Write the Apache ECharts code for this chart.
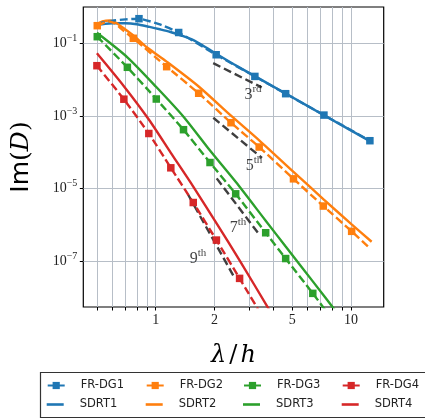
<!DOCTYPE html>
<html><head><meta charset="utf-8">
<script src="https://cdn.jsdelivr.net/npm/echarts@6/dist/echarts.min.js"></script>
<style>html,body{margin:0;padding:0;background:#fff}#c{width:425px;height:420px}</style>
</head><body><div id="c"></div>
<script>
// ---- tick values ----
const xTickValues = [0.5, 0.6, 0.7, 0.8, 0.9, 1, 2, 3, 4, 5, 6, 7, 8, 9, 10];
const xTickLabels = [1, 2, 5, 10];
const yTickLabels = [1e-1, 1e-3, 1e-5, 1e-7];

// ---- FR-DG (dashed with square markers) ----
const dg1_x = [0.5, 0.6, 0.7, 0.821, 1.05, 1.311, 2.04, 3.22, 4.63, 7.27, 12.5];
const dg1_y = [0.355, 0.43, 0.47, 0.49, 0.34, 0.2037, 0.0495, 0.0125, 0.00417, 0.00107, 0.00021];
const dg1_marks = [3, 5, 6, 7, 8, 9, 10];

const dg2_x = [0.502, 0.55, 0.58, 0.62, 0.683, 0.768, 1.138, 1.66, 2.43, 3.388, 5.077, 7.215, 10.08, 12.51];
const dg2_y = [0.314, 0.39, 0.41, 0.36, 0.23, 0.141, 0.0232, 0.00428, 0.000659, 0.0001406, 1.862e-5, 3.30e-6, 6.62e-7, 2.24e-7];
const dg2_marks = [0, 5, 6, 7, 8, 9, 10, 11, 12];

const dg3_x = [0.502, 0.716, 1.007, 1.388, 1.897, 2.568, 3.658, 4.63, 6.375, 8.0];
const dg3_y = [0.156, 0.0223, 0.00297, 0.000423, 5.25e-5, 7.18e-6, 6.05e-7, 1.175e-7, 1.285e-8, 2.5e-9];
const dg3_marks = [0, 1, 2, 3, 4, 5, 6, 7, 8];

const dg4_x = [0.5, 0.687, 0.922, 1.195, 1.557, 2.046, 2.689, 3.6];
const dg4_y = [0.0247, 0.00294, 0.000332, 3.75e-5, 4.13e-6, 3.8e-7, 3.33e-8, 2.4e-9];
const dg4_marks = [0, 1, 2, 3, 4, 5, 6];

// ---- SDRT (solid) ----
const sd1_x = [0.5, 0.55, 0.6, 0.7, 0.8, 0.93, 1.05, 1.18, 1.35, 1.55, 1.75, 2.04, 2.5, 3.22, 4.63, 7.27, 12.5];
const sd1_y = [0.33, 0.352, 0.365, 0.368, 0.345, 0.29, 0.25, 0.214, 0.168, 0.127, 0.088, 0.053, 0.0275, 0.0127, 0.0042, 0.00106, 0.000205];

const sd2_x = [0.5, 0.54, 0.583, 0.62, 0.683, 0.768, 0.9, 1.138, 1.66, 2.43, 3.388, 5.077, 7.215, 10.08, 12.76];
const sd2_y = [0.35, 0.42, 0.435, 0.39, 0.27, 0.17, 0.08, 0.032, 0.0066, 0.00103, 0.000215, 2.9e-5, 5.15e-6, 1.03e-6, 3.41e-7];

const sd3_x = [0.5, 0.716, 1.007, 1.388, 1.897, 2.568, 3.658, 4.63, 6.375, 9.0];
const sd3_y = [0.2, 0.0421, 0.00637, 0.000965, 0.0001125, 1.54e-5, 1.3e-6, 2.52e-7, 2.75e-8, 2.46e-9];

const sd4_x = [0.5, 0.687, 0.922, 1.195, 1.557, 2.046, 2.689, 3.9];
const sd4_y = [0.0543, 0.00671, 0.000807, 9.73e-5, 1.14e-5, 1.12e-6, 1.05e-7, 3.7e-9];

// ---- order reference lines ----
const ref3_x = [1.97, 3.49];   const ref3_y = [0.029, 0.0062];
const ref5_x = [1.972, 3.5];   const ref5_y = [0.000905, 7e-5];
const ref7_x = [2.053, 3.353]; const ref7_y = [1.92e-5, 5.82e-7];
const ref9_x = [1.469, 2.496]; const ref9_y = [6.65e-6, 4e-8];

// ---- order annotations ----
const ann_x = [3.15, 3.19, 2.64, 1.646];
const ann_y = [0.00384, 4.2e-5, 8.2e-7, 1.15e-7];
const ann_num = ['3', '5', '7', '9'];
const ann_sup = ['rd', 'th', 'th', 'th'];

const C = {b: '#1f77b4', o: '#ff7f0e', g: '#2ca02c', r: '#d62728', k: '#3f3f3f'};
const LW = 2.4;

function zip(xs, ys) { return xs.map((x, i) => [x, ys[i]]); }
function dgSeries(name, color, xs, ys, marks) {
  return {
    name, type: 'line', symbol: 'rect', symbolSize: 7.5, showAllSymbol: true,
    data: xs.map((x, i) => marks.includes(i) ? [x, ys[i]] : {value: [x, ys[i]], symbol: 'none'}),
    lineStyle: {color, width: LW, type: [8, 3.6]}, itemStyle: {color},
    smooth: 0.15, z: 3, animation: false, silent: true
  };
}
function sdSeries(name, color, xs, ys) {
  return {
    name, type: 'line', symbol: 'none', data: zip(xs, ys),
    lineStyle: {color, width: LW}, itemStyle: {color},
    smooth: 0.25, z: 2, animation: false, silent: true
  };
}
function refSeries(xs, ys) {
  return {
    type: 'line', symbol: 'none', data: zip(xs, ys),
    lineStyle: {color: C.k, width: LW, type: [8, 4]}, z: 2, animation: false, silent: true
  };
}

const serif = 'Liberation Serif';
const chart = echarts.init(document.getElementById('c'), null, {renderer: 'canvas'});

const legendCols = [46.7, 145.7, 243, 341.7];
const legendRows = [378.5, 397.5];
const legendNames = [['FR-DG1', 'FR-DG2', 'FR-DG3', 'FR-DG4'], ['SDRT1', 'SDRT2', 'SDRT3', 'SDRT4']];
const legends = [];
legendNames.forEach((row, r) => row.forEach((nm, c) => {
  const isLine = r === 1;
  legends.push({
    data: isLine ? [{name: nm, icon: 'rect'}] : [nm],
    left: legendCols[c], top: legendRows[r], orient: 'horizontal',
    padding: 0, itemWidth: 17, itemHeight: isLine ? 2.6 : 9, selectedMode: false,
    lineStyle: {type: 'solid'},
    textStyle: {fontFamily: 'DejaVu Sans', fontSize: 11.5, color: '#222', lineHeight: 14, padding: [0, 0, 0, 11]}
  });
}));

chart.setOption({
  animation: false,
  grid: {left: 83.3, top: 7, width: 300.4, height: 300, show: true, borderColor: '#000', borderWidth: 1.2, backgroundColor: 'transparent'},
  xAxis: {
    type: 'log', logBase: 10, min: 0.4258, max: 14.71,
    name: '{a|λ}{b|/}{a|h}', nameLocation: 'middle', nameGap: 37,
    nameTextStyle: {rich: {
      a: {fontFamily: 'DejaVu Serif', fontStyle: 'italic', fontSize: 24, color: '#000'},
      b: {fontFamily: 'DejaVu Serif', fontSize: 24, color: '#000', padding: [0, 3, 0, 3]}
    }},
    axisLine: {show: false},
    axisTick: {show: true, inside: false, length: 3.5, lineStyle: {color: '#000', width: 1}, customValues: xTickValues},
    axisLabel: {show: true, margin: 6, customValues: xTickLabels, fontFamily: serif, fontSize: 14, color: '#222',
      formatter: v => String(Math.round(v))},
    splitLine: {show: true, lineStyle: {color: '#b7bec7', width: 1}},
    minorTick: {show: false}, minorSplitLine: {show: false}
  },
  yAxis: {
    type: 'log', logBase: 10, min: 5.4e-9, max: 1.03,
    name: '{a|Im}{b|(}{c|D}{b|)}', nameLocation: 'middle', nameRotate: 90, nameGap: 49,
    nameTextStyle: {rich: {
      a: {fontFamily: 'DejaVu Sans', fontSize: 25, color: '#000'},
      b: {fontFamily: 'DejaVu Serif', fontSize: 25, color: '#000'},
      c: {fontFamily: 'DejaVu Serif', fontStyle: 'italic', fontSize: 25, color: '#000'}
    }},
    axisLine: {show: false},
    axisTick: {show: true, inside: false, length: 3.5, lineStyle: {color: '#000', width: 1}, customValues: yTickLabels},
    axisLabel: {show: true, margin: 6, customValues: yTickLabels,
      formatter: v => '{m|10}{s|−' + Math.round(-Math.log10(v)) + '}',
      rich: {
        m: {fontFamily: serif, fontSize: 14, color: '#222', lineHeight: 20},
        s: {fontFamily: serif, fontSize: 10, color: '#222', lineHeight: 11, verticalAlign: 'top'}
      }},
    splitLine: {show: true, lineStyle: {color: '#b7bec7', width: 1}}
  },
  legend: legends,
  graphic: [{type: 'rect', z: 0, silent: true, shape: {x: 40.5, y: 372.5, width: 400, height: 45},
    style: {fill: '#fff', stroke: '#333', lineWidth: 1.2}}],
  series: [
    refSeries(ref3_x, ref3_y), refSeries(ref5_x, ref5_y), refSeries(ref7_x, ref7_y), refSeries(ref9_x, ref9_y),
    dgSeries('FR-DG1', C.b, dg1_x, dg1_y, dg1_marks),
    sdSeries('SDRT1', C.b, sd1_x, sd1_y),
    dgSeries('FR-DG2', C.o, dg2_x, dg2_y, dg2_marks),
    sdSeries('SDRT2', C.o, sd2_x, sd2_y),
    dgSeries('FR-DG3', C.g, dg3_x, dg3_y, dg3_marks),
    sdSeries('SDRT3', C.g, sd3_x, sd3_y),
    dgSeries('FR-DG4', C.r, dg4_x, dg4_y, dg4_marks),
    sdSeries('SDRT4', C.r, sd4_x, sd4_y),
    {
      type: 'scatter', symbolSize: 1, itemStyle: {color: 'rgba(0,0,0,0)'}, silent: true, z: 6,
      data: ann_x.map((x, i) => ({value: [x, ann_y[i]], label: {formatter: '{n|' + ann_num[i] + '}{s|' + ann_sup[i] + '}'}})),
      label: {show: true, position: 'inside', rich: {
        n: {fontFamily: serif, fontSize: 16, color: '#111', lineHeight: 22},
        s: {fontFamily: serif, fontSize: 11, color: '#111', lineHeight: 13, verticalAlign: 'top'}
      }}
    }
  ]
});
</script></body></html>
